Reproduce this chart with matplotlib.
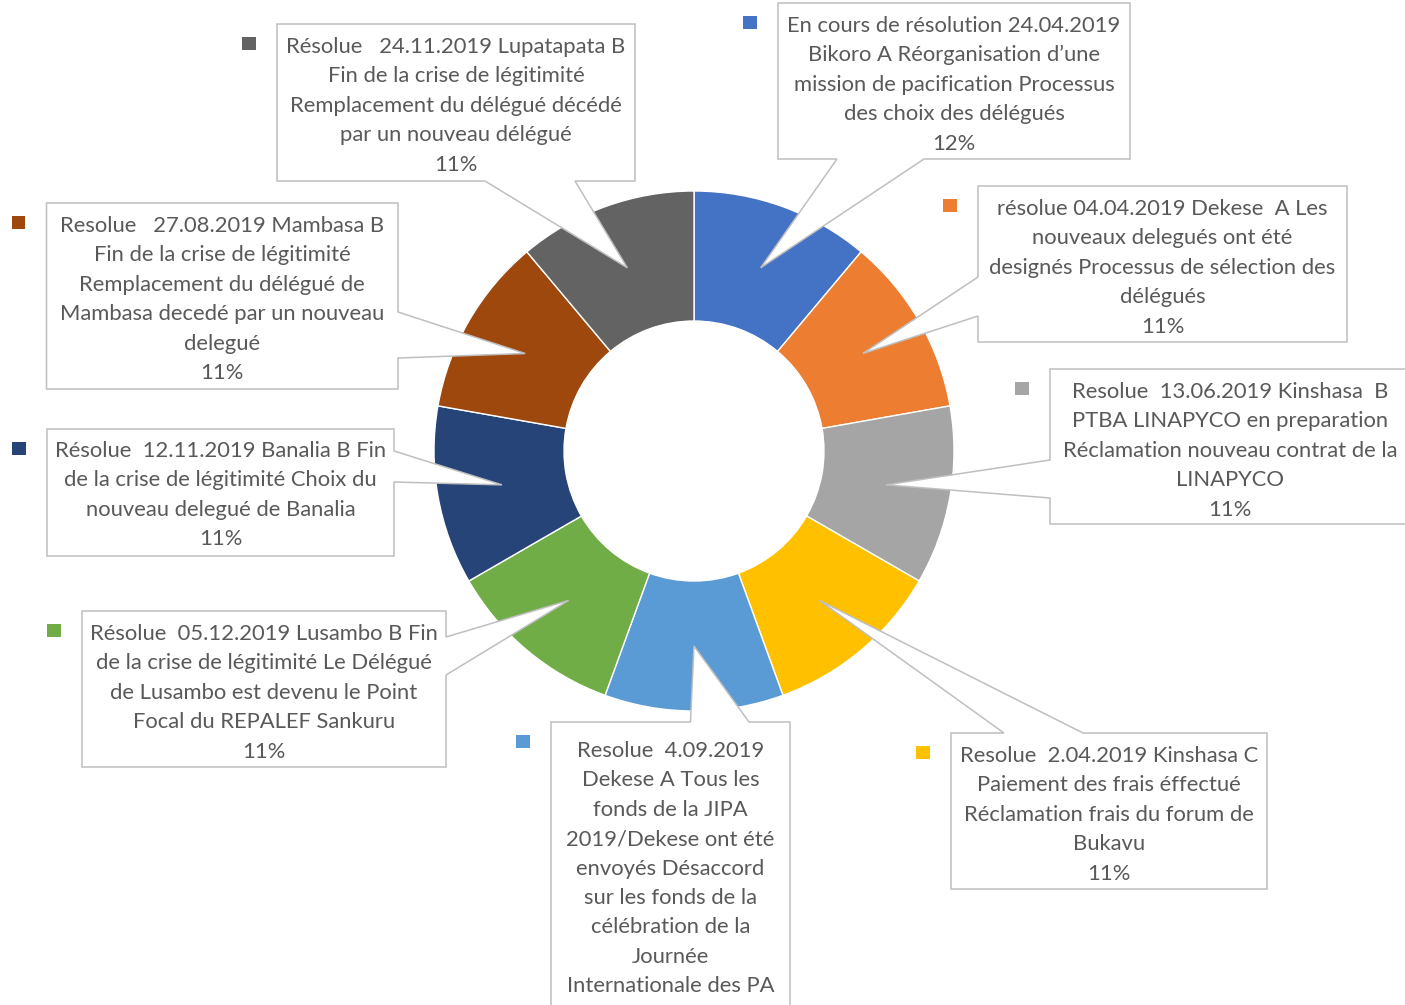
import numpy as np
import matplotlib
matplotlib.use("Agg")
import matplotlib.pyplot as plt
from matplotlib.patches import Polygon, Rectangle

plt.rcParams['font.family'] = ['Lato', 'DejaVu Sans']

# ---------------- data ----------------
labels = [
    ["En cours de résolution 24.04.2019", "Bikoro A Réorganisation d\u2019une",
     "mission de pacification Processus", "des choix des délégués"],
    ["résolue 04.04.2019 Dekese  A Les", "nouveaux delegués ont été",
     "designés Processus de sélection des", "délégués"],
    ["Resolue  13.06.2019 Kinshasa  B", "PTBA LINAPYCO en preparation",
     "Réclamation nouveau contrat de la", "LINAPYCO"],
    ["Resolue  2.04.2019 Kinshasa C", "Paiement des frais éffectué",
     "Réclamation frais du forum de", "Bukavu"],
    ["Resolue  4.09.2019", "Dekese A Tous les", "fonds de la JIPA",
     "2019/Dekese ont été", "envoyés Désaccord", "sur les fonds de la",
     "célébration de la", "Journée", "Internationale des PA"],
    ["Résolue  05.12.2019 Lusambo B Fin", "de la crise de légitimité Le Délégué",
     "de Lusambo est devenu le Point", "Focal du REPALEF Sankuru"],
    ["Résolue  12.11.2019 Banalia B Fin", "de la crise de légitimité Choix du",
     "nouveau delegué de Banalia"],
    ["Resolue   27.08.2019 Mambasa B", "Fin de la crise de légitimité",
     "Remplacement du délégué de", "Mambasa decedé par un nouveau", "delegué"],
    ["Résolue   24.11.2019 Lupatapata B", "Fin de la crise de légitimité",
     "Remplacement du délégué décédé", "par un nouveau délégué"],
]
values = [1, 1, 1, 1, 1, 1, 1, 1, 1]          # slices appear equal in the picture
pct_labels = ["12%", "11%", "11%", "11%", "11%", "11%", "11%", "11%", "11%"]
colors = ["#4472C4", "#ED7D31", "#A5A5A5", "#FFC000", "#5B9BD5",
          "#70AD47", "#264478", "#9E480E", "#636363"]

# ---------------- layout (pixel coords, y downwards) ----------------
W, H = 1405, 1005
cx, cy_pix, R = 694, 451, 260
boxes = [  # left, top, right, bottom
    (778, 3, 1130, 159),
    (978, 186, 1347, 342),
    (1050, 369, 1410, 524),
    (951, 733, 1267, 889),
    (551, 722, 790, 1045),
    (82, 611, 446, 767),
    (47, 429, 394, 556),
    (46.5, 203, 398, 389),
    (277, 24, 635, 181),
]
notches = [  # side, a1, a2
    ("bottom", 837, 924),
    ("left", 277, 316),
    ("left", 460, 498),
    ("top", 1004, 1083),
    ("top", 690.5, 749),
    ("right", 637, 675),
    ("right", 451, 482),
    ("right", 312, 358),
    ("bottom", 485, 575),
]
first_baseline = [29, 29, 29, 29, 35, 29, 28, 29, 29]
line_step = 29.4
text_color = "#595959"
border_color = "#BFBFBF"
fsize = 15.8

fig = plt.figure(figsize=(W / 100, H / 100), dpi=100)
ax = fig.add_axes([0, 0, 1, 1])


def Y(y):
    return H - y


wedges, _ = ax.pie(values, colors=colors, startangle=90, counterclock=False,
                   center=(cx, Y(cy_pix)), radius=R,
                   wedgeprops=dict(width=R / 2, edgecolor="white", linewidth=1))
ax.set_xlim(0, W)
ax.set_ylim(0, H)
ax.set_aspect("equal")
ax.axis("off")

for i, w in enumerate(wedges):
    mid = np.deg2rad((w.theta1 + w.theta2) / 2)
    tip = (cx + 0.75 * R * np.cos(mid), Y(cy_pix) + 0.75 * R * np.sin(mid))
    l, t, r, b = boxes[i]
    side, a1, a2 = notches[i]
    tY, bY = Y(t), Y(b)
    if side == "bottom":
        pts = [(l, tY), (r, tY), (r, bY), (a2, bY), tip, (a1, bY), (l, bY)]
    elif side == "top":
        pts = [(l, tY), (a1, tY), tip, (a2, tY), (r, tY), (r, bY), (l, bY)]
    elif side == "left":
        pts = [(l, tY), (r, tY), (r, bY), (l, bY), (l, Y(a2)), tip, (l, Y(a1))]
    else:
        pts = [(l, tY), (r, tY), (r, Y(a1)), tip, (r, Y(a2)), (r, bY), (l, bY)]
    ax.add_patch(Polygon(pts, closed=True, facecolor="white",
                         edgecolor=border_color, linewidth=1.1, zorder=5,
                         joinstyle="miter"))
    lines = labels[i] + [pct_labels[i]]
    xc = (l + r) / 2
    for k, ln in enumerate(lines):
        base = t + first_baseline[i] + k * line_step
        if base > H - 4:
            continue  # this line lies below the visible chart area
        ax.text(xc, Y(base), ln,
                ha="center", va="baseline", fontsize=fsize, color=text_color,
                zorder=6)
    ax.add_patch(Rectangle((l - 35, Y(t + 26)), 13.5, 13.5,
                           facecolor=colors[i], edgecolor="none", zorder=6))

fig.savefig("out.png", dpi=100)
